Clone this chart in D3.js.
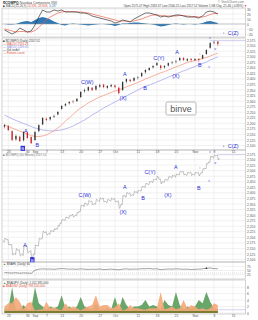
<!DOCTYPE html>
<html>
<head>
<meta charset="utf-8">
<script src="https://cdnjs.cloudflare.com/ajax/libs/d3/7.8.5/d3.min.js"></script>
<style>
body{margin:0;background:#fff}
</style>
</head>
<body>
<div id="graph"></div>
<script>
// trading days Aug 20 .. Nov 9 2010, x is the day index
var tickDays = [1,6,8,11,15,20,25,29,35,40,45,50,55,60];
var tickLabels = ["23","30","Sep","7","13","20","27","Oct","11","18","25","Nov","8","15"];

var opens = [2185,2188,2165,2128,2140,2124,2158,2138,2125,2165,
 2195,2220,2218,2230,2240,2265,2280,2290,2298,2300,
 2318,2345,2348,2360,2352,2365,2374,2360,2366,2370,
 2360,2350,2388,2396,2392,2406,2412,2430,2440,2452,
 2462,2460,2452,2460,2474,2478,2484,2494,2482,2490,
 2484,2490,2492,2512,2540,2564,2568];
var highs = [2197,2192,2168,2150,2145,2165,2162,2142,2166,2196,
 2228,2226,2232,2240,2255,2282,2292,2300,2305,2314,
 2345,2356,2366,2364,2372,2378,2378,2372,2378,2375,
 2365,2390,2402,2400,2408,2412,2430,2444,2452,2462,
 2476,2464,2462,2474,2480,2486,2498,2498,2494,2494,
 2494,2493,2510,2534,2566,2572,2570];
var lows = [2178,2165,2120,2122,2116,2118,2130,2107,2122,2160,
 2192,2210,2212,2224,2236,2262,2276,2284,2290,2296,
 2315,2338,2344,2345,2348,2360,2358,2355,2362,2358,
 2330,2346,2380,2385,2388,2398,2408,2424,2436,2446,
 2458,2440,2446,2456,2466,2470,2480,2480,2478,2478,
 2480,2476,2488,2508,2536,2556,2548];
var closes = [2192,2170,2125,2143,2120,2161,2134,2111,2161,2192,
 2224,2215,2228,2233,2251,2278,2287,2296,2296,2310,
 2341,2350,2363,2350,2368,2372,2363,2368,2372,2363,
 2336,2386,2399,2390,2404,2408,2426,2440,2449,2458,
 2471,2449,2458,2471,2476,2480,2494,2485,2489,2485,
 2489,2485,2507,2530,2561,2566,2557];
var maFast = [2193,2186,2179,2172,2165,2159,2152,2145,2141,2141,
 2143,2148,2157,2166,2179,2193,2211,2224,2240,2256,
 2269,2280,2292,2301,2310,2319,2325,2332,2339,2346,
 2350,2357,2364,2370,2377,2384,2391,2400,2406,2413,
 2420,2427,2433,2440,2447,2454,2460,2467,2474,2478,
 2483,2487,2492,2496,2503,2510,2516];
var maSlow = [2238,2229,2220,2213,2206,2199,2193,2186,2179,2175,
 2170,2168,2166,2166,2168,2170,2175,2181,2188,2197,
 2206,2215,2226,2238,2247,2258,2269,2278,2287,2296,
 2305,2314,2323,2332,2341,2350,2359,2366,2372,2379,
 2386,2393,2400,2408,2415,2422,2429,2436,2442,2449,
 2456,2463,2469,2476,2485,2492,2499];

var macdLine = [-12,-16,-20,-16,-8,-12,-16,-14,-2,14,
 28,24,24,28,26,28,24,24,24,24,
 22,22,20,16,14,12,10,8,6,2,
 4,8,6,4,10,14,18,22,22,20,
 18,14,16,14,16,18,18,16,14,14,
 14,12,16,24,26,24,20];
var macdSignal = [-10,-12,-14,-16,-15,-15,-16,-16,-13,-7,
 1,8,14,18,22,24,25,25,25,24,
 24,23,22,20,18,16,14,12,10,8,
 6,6,6,5,6,8,10,13,16,18,
 18,17,16,16,16,16,17,17,16,15,
 15,14,14,16,19,21,21];
var macdHist = [0,-1,-1,0,3,5,6,4,8,12,
 14,12,9,5,2,-2,-3,0,1,0,
 -1,-2,-3,-2,-1,0,0,-1,-2,-4,
 -2,1,1,2,3,3,2,1,0,-1,
 -3,-5,-4,-2,0,1,0,-1,0,0,
 -1,0,2,5,6,4,2];

var breadth = [38,36,35,37,34,36,35,33,52,58,
 60,58,59,57,60,61,60,58,59,57,
 60,58,56,58,57,59,55,57,58,56,
 54,58,60,57,59,58,61,60,62,59,
 60,55,57,59,58,60,59,57,58,56,
 57,58,60,63,65,61,60];

var upVol = [1.5,1.2,8,1.0,1.2,2.5,1.0,1.2,8,3,
 2,1.2,2,1.5,2,5.5,1.5,2,1.2,2,
 5,2,1.5,1.0,3,1.2,1.0,1.5,1.2,5,
 1.0,5,2.5,1.2,2,2,2.5,4,2,2.5,
 2,1,4,2.5,2,6.5,2.5,1,2,1.5,
 2,4,3,6.5,3.5,1.5,1.0];
var downVol = [2,3,3,5,3.5,1.2,3,3.5,0.8,1,
 1.2,3.5,1.5,1.8,1.2,0.8,3,1.5,2,1.5,
 0.8,1.5,2,2.5,5.5,2,2.5,2.5,1.5,1.8,
 3,0.8,1.2,2.5,1.5,1.5,1.2,1,1.5,1.5,
 1.5,6.5,1.2,1.5,2,1.2,1.5,4,1.5,2.5,
 2,1.2,1.5,1,1.5,3,2.5];

// wave count labels (day index, price)
var mainWaveText = ["B","A","B","C(W)","(X)","A","B","C(Y)","(X)","A","B","C(Z)"];
var mainWaveDay = [4.8,5.6,8.6,21.7,31.1,31.6,36.9,40.5,45,45.3,51.3,58.6];
var mainWavePrice = [2086,2166,2102,2386,2314,2422,2359,2494,2413,2521,2462,2606];
var mainWaveBoxed = [true,false,false,false,false,false,false,false,false,false,false,false];

var lineWaveText = ["A","B","C(W)","(X)","A","B","C(Y)","(X)","A","B","C(Z)"];
var lineWaveDay = [5.4,7.3,21.1,31.1,31.6,36.4,38.2,42.9,45,51,58.6];
var lineWavePrice = [2166,2098,2390,2314,2426,2377,2494,2390,2516,2422,2610];
var lineWaveBoxed = [false,true,false,false,false,false,false,false,false,false,false];

var subWaveText = ["v","iv","i","ii"];
var subWaveDay = [53.9,55.3,51.3,53.7];
var subWavePrice = [2584,2534,2512,2454];

var resistanceLevel = 2572;

var svgWidth = 258;
var svgHeight = 320;
var plotLeft = 2;
var plotRight = 245.5;
var gridColor = "#e3e3e3";
var waveColor = "#2a2ad8";
var font = "'Liberation Sans', Arial, sans-serif";

var $svg = d3.select("#graph")
    .append("svg")
    .attr("width", svgWidth)
    .attr("height", svgHeight)
    .style("font-family", font)
    .style("display","block");

var x = d3.scaleLinear().domain([0, 63]).range([4.5, 244.5]);
var days = d3.range(closes.length);

var yMacd = d3.scaleLinear().domain([-26, 32]).range([37, 8]);
var yMain = d3.scaleLinear().domain([2080, 2584]).range([150, 38]);
var yLine = d3.scaleLinear().domain([2080, 2584]).range([264, 152]);
var yBreadth = d3.scaleLinear().domain([0, 100]).range([279, 262]);
var yVol = d3.scaleLinear().domain([0, 9]).range([313, 284]);

var panels = [
    {top:8, bottom:37, y:yMacd, ticks:[-20,-10,0,10,20,30]},
    {top:38, bottom:150, y:yMain, ticks:d3.range(2100, 2576, 25)},
    {top:150, bottom:262, y:yLine, ticks:d3.range(2100, 2576, 25)},
    {top:262, bottom:279, y:yBreadth, ticks:[25,50,75]},
    {top:280, bottom:314, y:yVol, ticks:[0,2,4,6,8]}
];

panels.forEach(function(p){
    var g = $svg.append("g");
    g.append("rect")
        .attr("x", plotLeft).attr("y", p.top)
        .attr("width", plotRight-plotLeft).attr("height", p.bottom-p.top)
        .attr("fill","#fff");
    g.selectAll(".vg").data(tickDays).enter().append("line")
        .attr("x1", d=>x(d)).attr("x2", d=>x(d))
        .attr("y1", p.top).attr("y2", p.bottom)
        .attr("stroke", gridColor).attr("stroke-width", 0.5);
    g.selectAll(".hg").data(p.ticks).enter().append("line")
        .attr("x1", plotLeft).attr("x2", plotRight)
        .attr("y1", d=>p.y(d)).attr("y2", d=>p.y(d))
        .attr("stroke", gridColor).attr("stroke-width", 0.5);
    var ax = g.append("g")
        .attr("transform", `translate(${plotRight},0)`)
        .call(d3.axisRight(p.y).tickValues(p.ticks).tickSize(0).tickPadding(1.5));
    ax.select(".domain").remove();
    ax.selectAll("text").attr("font-size", 3.3).attr("fill","#555").attr("font-family", font);
    p.g = g;
});

// MACD panel
var $macd = panels[0].g;
$macd.append("path")
    .attr("d", d3.area().x(d=>x(d)).y0(yMacd(0)).y1(d=>yMacd(macdHist[d]))(days))
    .attr("fill", "#2f78b5");
$macd.append("line")
    .attr("x1", plotLeft).attr("x2", plotRight)
    .attr("y1", yMacd(0)).attr("y2", yMacd(0))
    .attr("stroke", "#9a9a9a").attr("stroke-width", 0.5);
$macd.append("path")
    .attr("d", d3.line().x(d=>x(d)).y(d=>yMacd(macdSignal[d]))(days))
    .attr("fill","none").attr("stroke","#e8604c").attr("stroke-width",0.7);
$macd.append("path")
    .attr("d", d3.line().x(d=>x(d)).y(d=>yMacd(macdLine[d]))(days))
    .attr("fill","none").attr("stroke","#333").attr("stroke-width",0.7);

// main candle panel
var $main = panels[1].g;
$main.append("path")
    .attr("d", d3.line().x(d=>x(d)).y(d=>yMain(maSlow[d]))(days))
    .attr("fill","none").attr("stroke","#a8a8ec").attr("stroke-width",0.8);
$main.append("path")
    .attr("d", d3.line().x(d=>x(d)).y(d=>yMain(maFast[d]))(days))
    .attr("fill","none").attr("stroke","#f29c86").attr("stroke-width",0.8);
$main.append("line")
    .attr("x1", x(54)).attr("x2", plotRight)
    .attr("y1", yMain(resistanceLevel)).attr("y2", yMain(resistanceLevel))
    .attr("stroke","#b4b4e6").attr("stroke-width",0.6);

var candleColor = d=>closes[d] >= opens[d] ? "#333" : "#cc2424";
$main.selectAll(".wick").data(days).enter().append("line")
    .attr("x1", d=>x(d)).attr("x2", d=>x(d))
    .attr("y1", d=>yMain(highs[d])).attr("y2", d=>yMain(lows[d]))
    .attr("stroke", candleColor).attr("stroke-width", 0.45);
$main.selectAll(".body").data(days).enter().append("rect")
    .attr("x", d=>x(d)-0.65).attr("width", 1.3)
    .attr("y", d=>yMain(Math.max(opens[d], closes[d])))
    .attr("height", d=>Math.max(0.5, Math.abs(yMain(opens[d])-yMain(closes[d]))))
    .attr("fill", candleColor);

// intraday style line panel: open -> extreme -> extreme -> close each day
var $line = panels[2].g;
var pathPts = [];
days.forEach(function(d){
    var mid = closes[d] >= opens[d] ? [lows[d], highs[d]] : [highs[d], lows[d]];
    pathPts.push([d-0.38, opens[d]], [d-0.12, mid[0]], [d+0.14, mid[1]], [d+0.4, closes[d]]);
});
$line.append("path")
    .attr("d", d3.line().x(d=>x(d[0])).y(d=>yLine(d[1]))(pathPts))
    .attr("fill","none").attr("stroke","#949494").attr("stroke-width",0.55);
$line.append("line")
    .attr("x1", x(56)).attr("x2", plotRight)
    .attr("y1", yLine(resistanceLevel)).attr("y2", yLine(resistanceLevel))
    .attr("stroke","#b4b4e6").attr("stroke-width",0.6);

// breadth panel
var $br = panels[3].g;
$br.append("line")
    .attr("x1", plotLeft).attr("x2", plotRight)
    .attr("y1", yBreadth(35)).attr("y2", yBreadth(35))
    .attr("stroke","#bbb").attr("stroke-width",0.5).attr("stroke-dasharray","1,1");
$br.append("path")
    .attr("d", d3.line().x(d=>x(d)).y(d=>yBreadth(breadth[d]))(days))
    .attr("fill","none").attr("stroke","#444").attr("stroke-width",0.5);
$br.append("circle")
    .attr("cx", x(53)).attr("cy", yBreadth(breadth[53])).attr("r", 0.8).attr("fill","#111");

// volume panel
var $vol = panels[4].g;
$vol.append("path")
    .attr("d", d3.area().x(d=>x(d)).y0(yVol(0)).y1(d=>yVol(upVol[d]))(days))
    .attr("fill", "#6aa56a");
$vol.append("path")
    .attr("d", d3.area().x(d=>x(d)).y0(yVol(0)).y1(d=>yVol(downVol[d]))(days))
    .attr("fill", "#f4a878").attr("fill-opacity", 0.9);
$vol.append("line")
    .attr("x1", x(0)).attr("x2", x(56))
    .attr("y1", yVol(0.3)).attr("y2", yVol(0.3))
    .attr("stroke","#5a6e1e").attr("stroke-width",1.6);
$vol.append("line")
    .attr("x1", x(56)).attr("x2", plotRight)
    .attr("y1", yVol(upVol[56])).attr("y2", yVol(upVol[56]))
    .attr("stroke","#b4b4e6").attr("stroke-width",0.6);

// panel borders on top
panels.forEach(function(p){
    $svg.append("rect")
        .attr("x", plotLeft).attr("y", p.top)
        .attr("width", plotRight-plotLeft).attr("height", p.bottom-p.top)
        .attr("fill","none").attr("stroke","#a8a8a8").attr("stroke-width",0.5);
});

// date axes
[150, 314].forEach(function(yy){
    var ax = $svg.append("g")
        .attr("transform", `translate(0,${yy})`)
        .call(d3.axisBottom(x).tickValues(tickDays).tickFormat((d,i)=>tickLabels[i]).tickSize(0).tickPadding(0.6));
    ax.select(".domain").remove();
    ax.selectAll("text").attr("font-size", 3.3).attr("fill","#555").attr("font-family", font);
});

// wave labels
function drawWaves(texts, dayArr, priceArr, boxed, yScale){
    texts.forEach(function(t, i){
        var cx = x(dayArr[i]);
        var cy = yScale(priceArr[i]);
        if (boxed[i]) {
            $svg.append("rect")
                .attr("x", cx-2.2).attr("y", cy-2.8).attr("width", 4.4).attr("height", 5)
                .attr("fill", waveColor);
        }
        if (t == "C(Z)") {
            $svg.append("circle").attr("cx", cx-4).attr("cy", cy).attr("r", 0.7).attr("fill", "#8888dd");
        }
        $svg.append("text")
            .attr("x", cx).attr("y", cy)
            .attr("dy", "0.36em")
            .attr("text-anchor", t == "C(Z)" ? "start" : "middle")
            .attr("font-size", boxed[i] ? 4.4 : 5.4)
            .attr("fill", boxed[i] ? "#fff" : waveColor)
            .text(t);
    });
}
drawWaves(mainWaveText, mainWaveDay, mainWavePrice, mainWaveBoxed, yMain);
drawWaves(lineWaveText, lineWaveDay, lineWavePrice, lineWaveBoxed, yLine);
[yMain, yLine].forEach(function(ys){
    subWaveText.forEach(function(t, i){
        $svg.append("text")
            .attr("x", x(subWaveDay[i])).attr("y", ys(subWavePrice[i]))
            .attr("dy","0.36em").attr("text-anchor","middle")
            .attr("font-size", 2.8).attr("fill", waveColor)
            .text(t);
    });
});

// watermark
$svg.append("rect")
    .attr("x", 166).attr("y", 102).attr("width", 30).attr("height", 13).attr("rx", 1.5)
    .attr("fill", "#fff").attr("stroke", "#9a9a9a").attr("stroke-width", 0.7);
$svg.append("text")
    .attr("x", 181).attr("y", 108.7).attr("dy","0.35em")
    .attr("text-anchor","middle").attr("font-size", 9).attr("fill", "#555")
    .text("binve");

// header and legends
function tinyText(xx, yy, parts, size, anchor){
    var t = $svg.append("text").attr("x", xx).attr("y", yy)
        .attr("font-size", size || 3.3)
        .attr("text-anchor", anchor || "start");
    parts.forEach(function(p){
        t.append("tspan").attr("fill", p[1]).attr("font-weight", p[2] || "normal").text(p[0]);
    });
}
tinyText(3, 4.2, [["$COMPQ ","#222","bold"],["Nasdaq Composite  INX","#555"]], 3.6);
tinyText(244, 3.4, [["© StockCharts.com","#777"]], 3, "end");
tinyText(3, 7.2, [["■ ","#222"],["MACD(12,26,9) ","#555"],["24.195, ","#e0503c"],["20.908, ","#e0503c"],["3.287","#2f78b5"]], 3);
tinyText(247, 6.6, [["Open 2571.07  High 2583.37  Low 2560.25  Last 2557.52  Volume 1.9B  Chg -21.46 (-0.83%) ","#444"],["▼","#d42020"]], 3, "end");

tinyText(3, 41.5, [["■ ","#222"],["$COMPQ (Daily) 2557.52","#444"]], 3);
tinyText(3, 44.5, [["— ","#e0503c"],["MA(20) 2516.24","#e0503c"]], 3);
tinyText(3, 47.5, [["— ","#8a8ae0"],["MA(50) 2499.05","#8a8ae0"]], 3);
tinyText(3, 50.5, [["— ","#222"],["Vol undef","#444"]], 3);
tinyText(3, 53.5, [["— ","#e0503c"],["Pattern count","#e0503c"]], 3);

tinyText(3, 155.6, [["■ ","#777"],["$COMPQ (60 Minute) 2557.52","#777"]], 3);
tinyText(3, 265.4, [["▲ ","#3a8a3a"],["$NAHL (Daily) 60","#444"]], 3);
tinyText(3, 284.2, [["▲ ","#3a8a3a"],["$NAUPV (Daily) 1,012,385,000","#444"]], 3);
tinyText(3, 287.4, [["■ ","#e0503c"],["$NADNV (Daily) 798,554,000","#e0503c"]], 3);
</script>
</body>
</html>
